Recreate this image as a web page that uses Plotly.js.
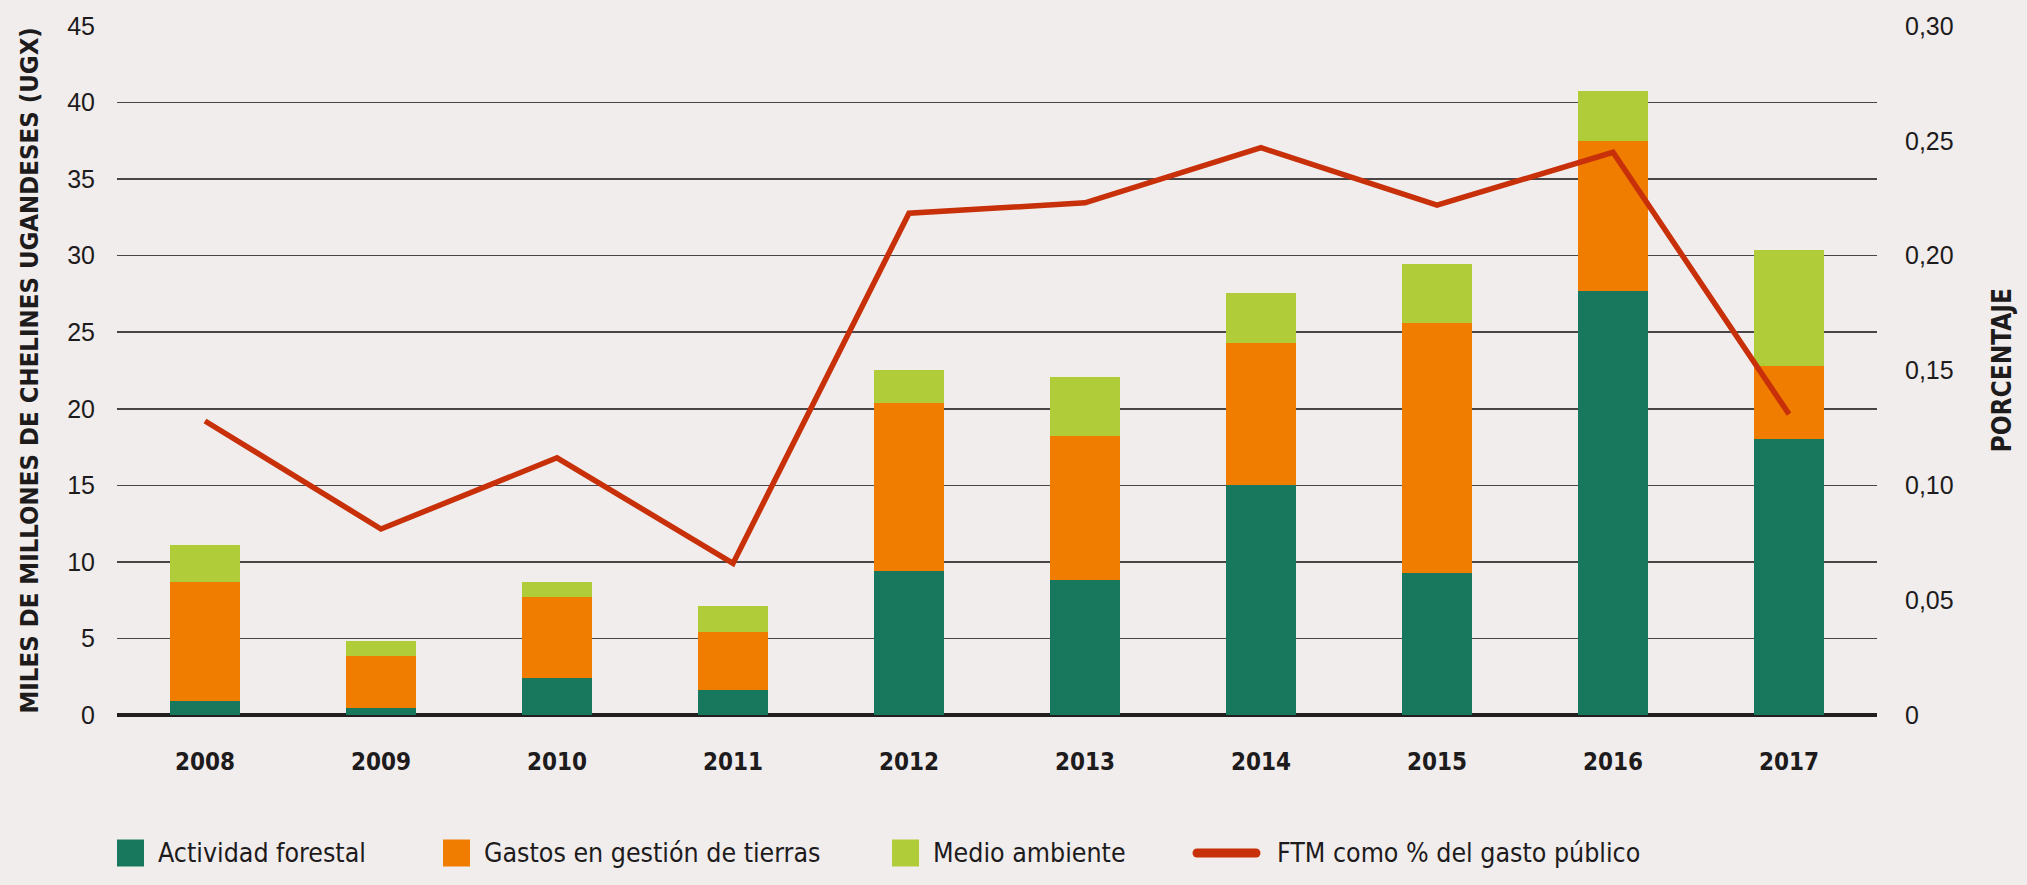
<!DOCTYPE html>
<html>
<head>
<meta charset="utf-8">
<script src="https://cdn.plot.ly/plotly-3.0.1.min.js"></script>
<style>
  html, body { margin: 0; padding: 0; background: #f1eded; }
  #chart { width: 2027px; height: 885px; }
</style>
</head>
<body>
<div id="chart"></div>
<script>
// ---- data ----
const years = ['2008', '2009', '2010', '2011', '2012', '2013', '2014', '2015', '2016', '2017'];
const actividadForestal = [0.9, 0.45, 2.4, 1.65, 9.4, 8.8, 15.0, 9.3, 27.7, 18.0];
const gastosTierras = [7.8, 3.4, 5.3, 3.75, 11.0, 9.4, 9.3, 16.3, 9.8, 4.8];
const medioAmbiente = [2.4, 1.0, 1.0, 1.7, 2.15, 3.9, 3.25, 3.85, 3.25, 7.6];
const ftmPct = [0.128, 0.081, 0.112, 0.066, 0.2185, 0.223, 0.247, 0.222, 0.245, 0.131];
const leftTicks = [0, 5, 10, 15, 20, 25, 30, 35, 40, 45];
const rightTickVals = [0, 0.05, 0.10, 0.15, 0.20, 0.25, 0.30];
const rightTickText = ['0', '0,05', '0,10', '0,15', '0,20', '0,25', '0,30'];
const names = ['Actividad forestal', 'Gastos en gestión de tierras', 'Medio ambiente', 'FTM como % del gasto público'];
const colors = ['#18785d', '#f07d00', '#b0cc38', '#c8300a'];

const NARROW = '"DejaVu Sans Condensed", "Liberation Sans Narrow", sans-serif';
const REG = '"Liberation Sans", Arial, sans-serif';
const TXT = '#1e1b1c';

const W = 2027, H = 885;
const L = 117, R = 150, T = 26, B = 170;
const plotW = W - L - R, plotH = H - T - B;
const px2x = p => (p - L) / plotW;
const px2y = p => (H - B - p) / plotH;

const traces = [
  { type: 'bar', x: years, y: actividadForestal, name: names[0], marker: { color: colors[0] }, showlegend: false },
  { type: 'bar', x: years, y: gastosTierras, name: names[1], marker: { color: colors[1] }, showlegend: false },
  { type: 'bar', x: years, y: medioAmbiente, name: names[2], marker: { color: colors[2] }, showlegend: false },
  { type: 'scatter', mode: 'lines', x: years, y: ftmPct, name: names[3], yaxis: 'y2',
    line: { color: colors[3], width: 5.5 }, showlegend: false }
];

// legend (swatch left edge / text left edge, in px)
const legSwatchX = [117, 443, 892, 1193];
const legTextX = [156, 482, 931, 1275];
const legY = 853;
const shapes = [];
const annotations = [];
for (let i = 0; i < 4; i++) {
  if (i < 3) {
    shapes.push({ type: 'rect', xref: 'paper', yref: 'paper',
      x0: px2x(legSwatchX[i]), x1: px2x(legSwatchX[i] + 27),
      y0: px2y(legY + 13.5), y1: px2y(legY - 13.5),
      fillcolor: colors[i], line: { width: 0 } });
  } else {
    shapes.push({ type: 'line', xref: 'paper', yref: 'paper',
      x0: px2x(legSwatchX[i] + 4), x1: px2x(legSwatchX[i] + 63),
      y0: px2y(legY), y1: px2y(legY),
      line: { color: colors[i], width: 9 } });
  }
  annotations.push({ text: names[i], xref: 'paper', yref: 'paper',
    x: px2x(legTextX[i]), y: px2y(legY), xanchor: 'left', yanchor: 'middle', showarrow: false,
    font: { family: NARROW, size: 26.5, color: TXT } });
}
annotations.push(
  { text: 'MILES DE MILLONES DE CHELINES UGANDESES (UGX)', xref: 'paper', yref: 'paper',
    x: px2x(28), y: 0.5, xanchor: 'center', yanchor: 'middle', textangle: -90, showarrow: false,
    font: { family: NARROW, size: 25.5, color: TXT, weight: 'bold' } },
  { text: 'PORCENTAJE', xref: 'paper', yref: 'paper',
    x: px2x(2001), y: 0.5, xanchor: 'center', yanchor: 'middle', textangle: -90, showarrow: false,
    font: { family: NARROW, size: 26, color: TXT, weight: 'bold' } }
);

const layout = {
  width: W, height: H,
  margin: { l: L, r: R, t: T, b: B },
  paper_bgcolor: '#f1eded', plot_bgcolor: '#f1eded',
  barmode: 'stack', bargap: 0.6,
  hovermode: false, showlegend: false,
  xaxis: {
    type: 'category',
    tickfont: { family: NARROW, size: 24, color: TXT, weight: 'bold' },
    ticks: 'outside', ticklen: 25, tickcolor: 'rgba(0,0,0,0)',
    showgrid: false, showline: false, zeroline: false, fixedrange: true
  },
  yaxis: {
    range: [0, 45], tickvals: leftTicks,
    tickfont: { family: REG, size: 25, color: TXT },
    ticks: 'outside', ticklen: 16, tickcolor: 'rgba(0,0,0,0)',
    showgrid: true, gridcolor: '#474545', gridwidth: 1.6,
    zeroline: true, zerolinecolor: '#231f20', zerolinewidth: 4.5,
    showline: false, fixedrange: true
  },
  yaxis2: {
    overlaying: 'y', side: 'right', range: [0, 0.30],
    tickvals: rightTickVals, ticktext: rightTickText,
    tickfont: { family: REG, size: 25, color: TXT },
    ticks: 'outside', ticklen: 22, tickcolor: 'rgba(0,0,0,0)',
    showgrid: false, zeroline: false, showline: false, fixedrange: true
  },
  shapes: shapes,
  annotations: annotations
};

Plotly.newPlot('chart', traces, layout, { displayModeBar: false, staticPlot: true }).then(gd => {
  gd.querySelectorAll('.shapelayer path').forEach(p => {
    if ((p.style.stroke || '').indexOf('200, 48, 10') >= 0) p.style.strokeLinecap = 'round';
  });
});
</script>
</body>
</html>
